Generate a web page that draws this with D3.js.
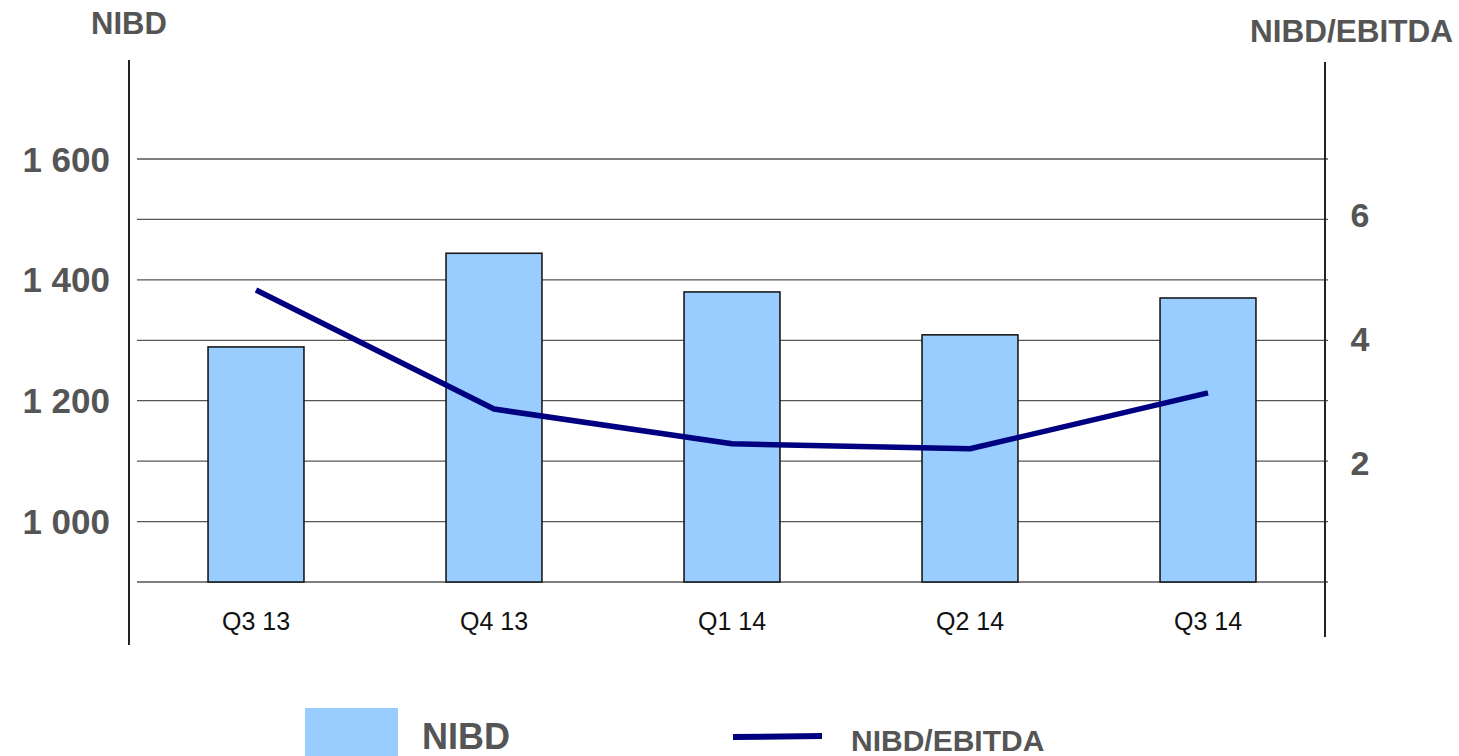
<!DOCTYPE html>
<html><head><meta charset="utf-8">
<script src="https://cdn.jsdelivr.net/npm/d3@7"></script>
<style>body{margin:0;background:#fff}svg{display:block}</style>
</head><body>
<svg id="chart" width="1459" height="756"></svg>
<script>
const categories = ["Q3 13","Q4 13","Q1 14","Q2 14","Q3 14"];
const nibd = [1289, 1444, 1380, 1309, 1370];
const ratio = [4.79, 2.87, 2.31, 2.23, 3.13];
const leftTicks = [1000, 1200, 1400, 1600];
const leftGrid = [900, 1000, 1100, 1200, 1300, 1400, 1500, 1600];
const rightTicks = [2, 4, 6];
const leftTickLabels = ["1 000", "1 200", "1 400", "1 600"];

const svg = d3.select("#chart");
const txt = "#555555";
const font = "'Liberation Sans', Arial, sans-serif";

const x = d3.scaleBand().domain(categories).range([137, 1327]).paddingInner(0.597).paddingOuter(0.2985);
const yL = d3.scaleLinear().domain([900, 1600]).range([582, 159]);
const yR = d3.scaleLinear().domain([0, 6]).range([587, 215]);

// gridlines
svg.append("g").selectAll("line").data(leftGrid).join("line")
  .attr("x1", 137).attr("x2", 1328)
  .attr("y1", d => yL(d)).attr("y2", d => yL(d))
  .attr("stroke", "#555").attr("stroke-width", 1.3);

// axes lines
svg.append("line").attr("x1", 129).attr("x2", 129).attr("y1", 60).attr("y2", 645)
  .attr("stroke", "#222").attr("stroke-width", 2);
svg.append("line").attr("x1", 1325).attr("x2", 1325).attr("y1", 62).attr("y2", 637)
  .attr("stroke", "#222").attr("stroke-width", 2);

// left tick labels
svg.append("g").selectAll("text").data(leftTicks).join("text")
  .attr("x", 110).attr("y", d => yL(d)).attr("dy", "0.36em")
  .attr("text-anchor", "end").attr("font-family", font).attr("font-weight", "bold")
  .attr("font-size", 35).attr("fill", txt)
  .text((d, i) => leftTickLabels[i]);

// right tick labels
svg.append("g").selectAll("text").data(rightTicks).join("text")
  .attr("x", 1360).attr("y", d => yR(d)).attr("dy", "0.36em")
  .attr("text-anchor", "middle").attr("font-family", font).attr("font-weight", "bold")
  .attr("font-size", 34).attr("fill", txt)
  .text(d => d);

// titles
svg.append("text").attr("x", 129).attr("y", 34).attr("text-anchor", "middle")
  .attr("font-family", font).attr("font-weight", "bold").attr("font-size", 31).attr("fill", txt)
  .text("NIBD");
svg.append("text").attr("x", 1453).attr("y", 42).attr("text-anchor", "end")
  .attr("font-family", font).attr("font-weight", "bold").attr("font-size", 31.5).attr("fill", txt)
  .text("NIBD/EBITDA");

// bars
svg.append("g").selectAll("rect").data(categories).join("rect")
  .attr("x", d => x(d)).attr("width", x.bandwidth())
  .attr("y", (d, i) => yL(nibd[i])).attr("height", (d, i) => yL(900) - yL(nibd[i]))
  .attr("fill", "#99ccff").attr("stroke", "#1a1a1a").attr("stroke-width", 1.6);

// category labels
svg.append("g").selectAll("text").data(categories).join("text")
  .attr("x", d => x(d) + x.bandwidth() / 2).attr("y", 630)
  .attr("text-anchor", "middle").attr("font-family", font).attr("font-size", 25).attr("fill", "#111")
  .text(d => d);

// line
const line = d3.line().x((d, i) => x(categories[i]) + x.bandwidth() / 2).y(d => yR(d));
svg.append("path").datum(ratio).attr("d", line)
  .attr("fill", "none").attr("stroke", "#000080").attr("stroke-width", 5.5).attr("stroke-linejoin", "round");

// legend
svg.append("rect").attr("x", 305).attr("y", 708).attr("width", 93).attr("height", 48).attr("fill", "#99ccff");
svg.append("text").attr("x", 422).attr("y", 749).attr("font-family", font).attr("font-weight", "bold")
  .attr("font-size", 36).attr("fill", txt).text("NIBD");
svg.append("line").attr("x1", 733).attr("x2", 822).attr("y1", 737).attr("y2", 736)
  .attr("stroke", "#000080").attr("stroke-width", 6);
svg.append("text").attr("x", 851).attr("y", 751).attr("font-family", font).attr("font-weight", "bold")
  .attr("font-size", 30).attr("fill", txt).text("NIBD/EBITDA");
</script>
</body></html>
